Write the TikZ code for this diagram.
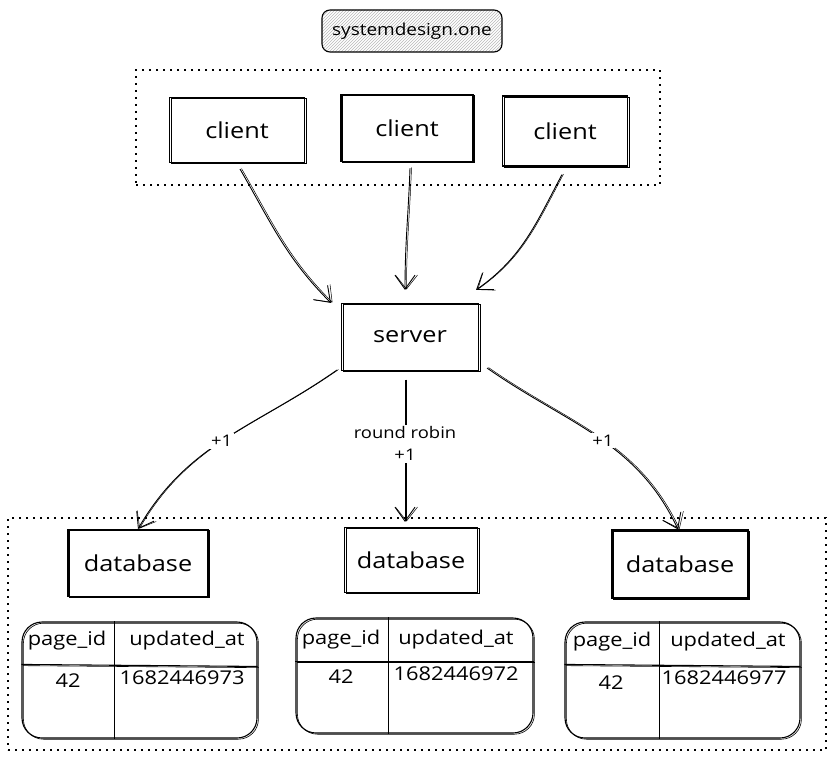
\documentclass[tikz,border=0pt]{standalone}
\usepackage{fontspec}
\setmainfont[FakeStretch=1.15]{Open Sans}
\usetikzlibrary{arrows.meta,patterns}
\begin{document}
\begin{tikzpicture}[x=1pt,y=1pt,
  sk/.style={draw, line width=1.1pt, preaction={draw, line width=0.6pt, transform canvas={shift={(1.4pt,-1.2pt)}}}},
  box/.style={sk, inner sep=0pt, font=\fontsize{22}{26}\selectfont},
  titlebox/.style={draw, line width=1.1pt, rounded corners=8pt, pattern=north east lines, pattern color=gray!55, inner sep=0pt, font=\fontsize{16.5}{20}\selectfont},
  dotbox/.style={draw, line width=1.2pt, dash pattern=on 2pt off 5pt, inner sep=0pt},
  tbl/.style={sk, rounded corners=20pt, inner sep=0pt},
  ttext/.style={inner sep=0pt, font=\fontsize{19}{22}\selectfont},
  lbl/.style={fill=white, inner sep=2pt, font=\fontsize{16}{22}\selectfont, align=center},
  arr/.style={line width=0.9pt, -{Straight Barb[length=14pt,width=20pt,line width=0.9pt]},
    preaction={draw, line width=0.5pt, -{Straight Barb[length=14pt,width=22pt,line width=0.5pt]}, transform canvas={shift={(1.5pt,0.5pt)}}}}
]
\useasboundingbox (0,0) rectangle (834,756);
\fill[white] (0,0) rectangle (834,756);

% title
\node[titlebox, minimum width=180pt, minimum height=42pt] (title) at (412,725) {systemdesign.one};

% containers
\node[dotbox, minimum width=524pt, minimum height=115pt] (top) at (398,628.5) {};
\node[dotbox, minimum width=818pt, minimum height=232pt] (bottom) at (417,122) {};

% clients
\node[box, minimum width=135pt, minimum height=65pt] (c1) at (237,626) {client};
\node[box, minimum width=132pt, minimum height=67pt] (c2) at (407,628) {client};
\node[box, minimum width=125pt, minimum height=70pt] (c3) at (565,625) {client};

% server
\node[box, minimum width=137pt, minimum height=67pt] (s) at (410,419) {server};

% databases
\node[box, minimum width=140pt, minimum height=67pt] (d1) at (138,193) {database};
\node[box, minimum width=133pt, minimum height=65pt] (d2) at (411,196) {database};
\node[box, minimum width=136pt, minimum height=68pt] (d3) at (680,192) {database};

% client -> server
\draw[arr] ([xshift=3pt,yshift=-6pt]c1.south) to[out=-60,in=135] ([xshift=-10pt,yshift=0pt]s.north west);
\draw[arr] ([xshift=3pt,yshift=-6pt]c2.south) to[out=-92,in=90] ([xshift=-5pt,yshift=13pt]s.north);
\draw[arr] ([xshift=-3pt,yshift=-8pt]c3.south) to[out=-118,in=35] ([xshift=-3pt,yshift=13pt]s.north east);

% server -> databases
\draw[arr] ([xshift=-4pt,yshift=1pt]s.south west) to[out=-145,in=60] node[lbl, pos=0.52] (l1) {+1} (d1.north);
\draw[arr] ([xshift=-5pt,yshift=-9pt]s.south) -- node[lbl, pos=0.45] (l2) {round robin\\+1} ([xshift=-6pt,yshift=5pt]d2.north);
\draw[arr] ([xshift=8pt,yshift=3pt]s.south east) to[out=-35,in=115] node[lbl, pos=0.53] (l3) {+1} ([xshift=-2pt]d3.north);

% tables
\node[tbl, minimum width=235pt, minimum height=116pt] (t1) at (139.5,76) {};
\draw[sk] ([yshift=-43pt]t1.north west) -- ([yshift=-45pt]t1.north east);
\draw[line width=1.1pt] ([xshift=93pt]t1.north west) -- ([xshift=93pt]t1.south west);
\node[ttext] (t1a) at (67,115) {page\_id};
\node[ttext] (t1b) at (187,115) {updated\_at};
\node[ttext] (t1c) at (68,75) {42};
\node[ttext] (t1d) at (182,78) {1682446973};

\node[tbl, minimum width=237pt, minimum height=115pt] (t2) at (414.5,80.5) {};
\draw[sk] ([yshift=-44pt]t2.north west) -- ([yshift=-44pt]t2.north east);
\draw[line width=1.1pt] ([xshift=93pt]t2.north west) -- ([xshift=93pt]t2.south west);
\node[ttext] (t2a) at (341,116) {page\_id};
\node[ttext] (t2b) at (456,116) {updated\_at};
\node[ttext] (t2c) at (341,79) {42};
\node[ttext] (t2d) at (456,82) {1682446972};

\node[tbl, minimum width=235pt, minimum height=116pt] (t3) at (682.5,76) {};
\draw[sk] ([yshift=-43pt]t3.north west) -- ([yshift=-45pt]t3.north east);
\draw[line width=1.1pt] ([xshift=95pt]t3.north west) -- ([xshift=95pt]t3.south west);
\node[ttext] (t3a) at (612,114) {page\_id};
\node[ttext] (t3b) at (728,114) {updated\_at};
\node[ttext] (t3c) at (611,73) {42};
\node[ttext] (t3d) at (724,78) {1682446977};
\end{tikzpicture}
\end{document}
